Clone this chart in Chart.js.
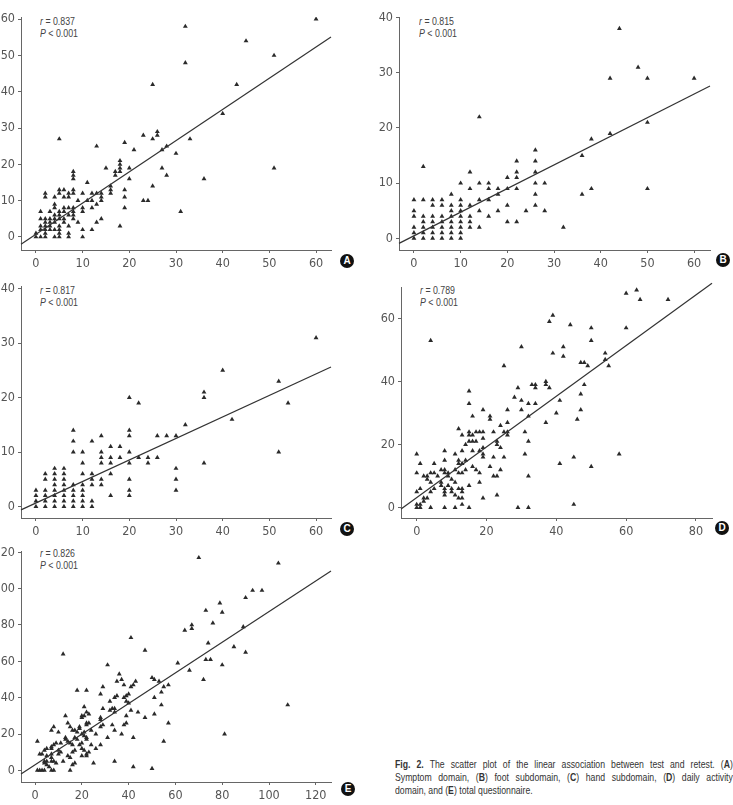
<!DOCTYPE html>
<html>
<head>
<meta charset="utf-8">
<script src="https://cdn.jsdelivr.net/npm/chart.js@4.4.1/dist/chart.umd.min.js"></script>
<style>
  body { margin: 0; width: 733px; height: 805px; position: relative; overflow: hidden; background: #fff;
         font-family: "Liberation Sans", Arial, sans-serif; }
  .panel { position: absolute; }
  .stat { position: absolute; font-size: 10px; line-height: 12px; color: #444; white-space: nowrap;
          transform: scaleX(0.88); transform-origin: 0 0; }
  .badge { position: absolute; width: 14px; height: 14px; border-radius: 50%; background: #111; color: #fff;
           font-weight: bold; font-size: 10px; line-height: 14px; text-align: center; }
  .cap { position: absolute; left: 395px; width: 412px; font-size: 10.6px; line-height: 13px; color: #333;
         text-align: justify; text-align-last: justify; white-space: nowrap;
         transform: scaleX(0.82); transform-origin: 0 0; }
  .cap.last { text-align-last: left; }
</style>
</head>
<body>

<div class="stat" style="left:40px;top:16px"><i>r</i> = 0.837<br><i>P</i> &lt; 0.001</div>
<div class="stat" style="left:419px;top:16px"><i>r</i> = 0.815<br><i>P</i> &lt; 0.001</div>
<div class="stat" style="left:40px;top:285px"><i>r</i> = 0.817<br><i>P</i> &lt; 0.001</div>
<div class="stat" style="left:420px;top:285px"><i>r</i> = 0.789<br><i>P</i> &lt; 0.001</div>
<div class="stat" style="left:40px;top:548px"><i>r</i> = 0.826<br><i>P</i> &lt; 0.001</div>

<div class="badge" style="left:340px;top:254px">A</div>
<div class="badge" style="left:716px;top:253px">B</div>
<div class="badge" style="left:340px;top:522px">C</div>
<div class="badge" style="left:715px;top:521px">D</div>
<div class="badge" style="left:341px;top:782px">E</div>

<div class="cap" style="top:758px"><b>Fig. 2.</b> The scatter plot of the linear association between test and retest. (<b>A</b>)</div>
<div class="cap" style="top:771px">Symptom domain, (<b>B</b>) foot subdomain, (<b>C</b>) hand subdomain, (<b>D</b>) daily activity</div>
<div class="cap last" style="top:784px">domain, and (<b>E</b>) total questionnaire.</div>

<script>
// test (x) / retest (y) pairs
const symptomA = [[60,60],[32,58],[45,54],[51,50],[32,48],[25,42],[43,42],[40,34],[5,27],[13,25],[19,26],[23,28],[25,27],[26,29],[26,28],[28,25],[33,27],[27,24],[21,24],[30,23],[18,21],[18,20],[17,18],[17,17],[18,19],[18,18],[15,19],[20,19],[27,19],[28,17],[20,16],[36,16],[51,19],[25,14],[8,18],[8,17],[8,16],[11,15],[16,14],[16,13],[16,12],[14,12],[14,11],[14,10],[19,13],[19,11],[19,8],[23,10],[24,10],[31,7],[18,3],[12,2],[14,5],[13,4],[13,12],[13,9],[12,12],[12,10],[12,8],[11,10],[10,12],[10,8],[10,7],[10,2],[10,0],[9,10],[9,4],[8,13],[8,12],[8,8],[8,7],[8,6],[8,5],[7,12],[7,11],[7,8],[7,6],[7,3],[7,1],[7,0],[6,13],[6,11],[6,8],[6,7],[6,5],[6,4],[5,13],[5,12],[5,7],[5,6],[5,5],[5,3],[5,2],[5,1],[5,0],[4,11],[4,9],[4,8],[4,6],[4,5],[4,4],[4,2],[4,0],[3,7],[3,5],[3,4],[3,3],[3,2],[2,12],[2,11],[2,5],[2,4],[2,3],[2,2],[2,1],[2,0],[1,7],[1,5],[1,3],[1,2],[1,0],[0,1],[0,0]];

const footB = [[44,38],[48,31],[42,29],[50,29],[60,29],[14,22],[50,21],[42,19],[38,18],[36,15],[36,8],[38,9],[50,9],[32,2],[2,13],[26,16],[26,14],[26,12],[26,10],[26,8],[26,6],[28,10],[28,5],[22,14],[22,12],[22,11],[22,9],[22,3],[24,5],[20,11],[20,9],[20,6],[20,3],[18,9],[18,8],[18,5],[16,10],[16,9],[16,7],[16,4],[14,10],[14,7],[14,5],[14,2],[12,12],[12,9],[12,6],[12,4],[12,3],[12,2],[10,10],[10,7],[10,6],[10,5],[10,4],[10,3],[10,2],[10,1],[10,0],[8,8],[8,6],[8,5],[8,4],[8,3],[8,2],[8,1],[8,0],[6,7],[6,6],[6,4],[6,3],[6,2],[6,1],[6,0],[4,7],[4,6],[4,4],[4,3],[4,2],[4,1],[4,0],[2,7],[2,4],[2,3],[2,2],[2,1],[2,0],[0,7],[0,5],[0,4],[0,2],[0,1],[0,0]];

const handC = [[60,31],[40,25],[52,23],[54,19],[42,16],[52,10],[36,21],[36,20],[36,8],[32,15],[30,13],[30,7],[30,5],[30,3],[26,13],[26,9],[28,13],[24,9],[24,8],[22,19],[22,9],[20,20],[20,14],[20,13],[20,10],[20,8],[20,5],[20,3],[20,2],[18,11],[18,9],[16,11],[16,9],[16,8],[16,6],[16,2],[14,13],[14,10],[14,9],[14,8],[14,5],[14,4],[12,12],[12,6],[12,5],[12,4],[12,1],[12,0],[10,10],[10,8],[10,6],[10,4],[10,3],[10,2],[10,1],[10,0],[8,14],[8,12],[8,10],[8,4],[8,3],[8,2],[8,1],[8,0],[6,7],[6,6],[6,5],[6,4],[6,3],[6,2],[6,1],[6,0],[4,7],[4,6],[4,5],[4,4],[4,3],[4,2],[4,1],[4,0],[2,6],[2,5],[2,3],[2,2],[2,1],[2,0],[0,3],[0,2],[0,1],[0,0]];

const dailyD = [[63,69],[60,68],[64,66],[72,66],[60,57],[39,61],[38,59],[44,58],[50,57],[50,53],[4,53],[30,51],[42,51],[39,49],[42,48],[54,49],[54,47],[47,46],[48,46],[49,45],[55,45],[25,45],[48,39],[37,40],[37,39],[33,39],[34,39],[34,38],[38,38],[29,38],[15,37],[47,36],[28,35],[30,34],[41,34],[15,33],[32,33],[34,33],[19,31],[26,31],[30,31],[47,31],[40,30],[32,29],[16,29],[21,29],[21,28],[46,28],[37,27],[26,27],[24,26],[12,25],[15,24],[15,23],[17,24],[18,24],[19,24],[22,24],[25,24],[26,24],[26,23],[31,24],[13,23],[16,23],[23,21],[23,20],[32,21],[15,21],[16,21],[17,21],[14,20],[19,22],[24,19],[19,19],[18,18],[13,18],[8,18],[16,18],[11,17],[0,17],[31,17],[58,17],[19,17],[19,16],[22,16],[25,16],[45,16],[12,15],[12,14],[14,15],[8,15],[13,14],[1,14],[5,14],[41,14],[21,13],[16,13],[17,12],[50,13],[14,12],[24,12],[7,12],[8,12],[4,11],[5,11],[0,11],[8,11],[9,11],[9,10],[12,11],[13,11],[11,12],[18,11],[2,10],[3,10],[3,9],[22,10],[23,10],[32,10],[10,9],[4,8],[7,8],[7,7],[11,8],[18,8],[15,7],[1,6],[5,6],[8,6],[8,5],[8,4],[10,6],[10,5],[12,6],[13,6],[13,5],[0,5],[4,5],[11,4],[23,4],[2,3],[2,2],[3,3],[12,3],[13,3],[19,3],[13,1],[45,1],[0,1],[1,1],[0,0],[1,0],[4,0],[8,0],[11,0],[15,0],[29,0],[32,0],[6,10],[9,7]];

const totalE = [[70,117],[104,114],[93,99],[97,99],[90,95],[79,92],[73,88],[80,87],[76,81],[67,80],[67,78],[64,77],[89,79],[74,70],[85,68],[47,66],[90,65],[12,64],[41,73],[73,61],[75,61],[61,59],[31,58],[80,58],[66,55],[36,53],[72,50],[50,51],[51,50],[53,49],[43,49],[35,49],[37,50],[55,46],[57,47],[41,46],[42,47],[38,47],[29,46],[54,43],[18,44],[22,44],[28,42],[34,40],[35,41],[38,40],[39,41],[40,42],[51,40],[39,38],[40,37],[32,38],[54,36],[108,36],[33,34],[32,33],[34,34],[21,35],[29,34],[41,33],[44,32],[34,32],[22,32],[23,31],[51,31],[13,30],[20,30],[21,30],[20,29],[39,30],[47,29],[28,29],[28,28],[14,26],[22,26],[23,26],[22,25],[39,26],[38,25],[57,26],[28,24],[29,25],[33,25],[19,24],[19,23],[15,24],[8,24],[7,22],[10,21],[16,22],[17,22],[18,21],[21,21],[20,20],[21,19],[24,22],[34,22],[26,20],[37,20],[1,16],[55,16],[81,20],[13,18],[13,17],[14,16],[17,18],[18,17],[22,17],[22,18],[31,18],[42,18],[9,15],[8,14],[11,15],[15,15],[16,14],[20,15],[19,14],[24,14],[7,13],[7,12],[5,12],[4,11],[10,11],[11,10],[10,9],[17,11],[16,10],[20,12],[21,11],[23,10],[22,9],[26,12],[28,14],[2,9],[3,9],[5,8],[7,7],[7,9],[14,8],[15,7],[20,8],[22,8],[4,5],[5,5],[4,4],[8,5],[7,5],[9,4],[12,5],[17,4],[16,3],[25,4],[34,5],[5,3],[6,2],[1,0],[2,0],[3,0],[4,0],[7,0],[8,0],[15,0],[42,2],[50,1]];

// regression lines: [intercept, slope]
const fitA = [0.75, 0.86];
const fitB = [0.47, 0.428];
const fitC = [0.65, 0.395];
const fitD = [3.2, 0.804];
const fitE = [3.06, 0.843];

// tick labels
const ticks60 = [0, 10, 20, 30, 40, 50, 60];
const ticks40 = [0, 10, 20, 30, 40];
const ticks80 = [0, 20, 40, 60, 80];
const ticks60by20 = [0, 20, 40, 60];
const ticks120 = [0, 20, 40, 60, 80, 100, 120];

const INK = "#2a2a2a";
const AXIS = "#666";
const TEXT = "#555";
const FONT = "'DejaVu Sans Condensed', 'Liberation Sans', sans-serif";

// layout: axis box in page pixels + value ranges
const panels = [
  { pts: symptomA, fit: fitA, box: [21, 17, 331, 250], x: [-3.2, 63.2], y: [-3.6, 60.6], xt: ticks60, yt: ticks60 },
  { pts: footB,    fit: fitB, box: [399, 17, 710, 250], x: [-3.2, 63.4], y: [-2.1, 40.1], xt: ticks60, yt: ticks40 },
  { pts: handC,    fit: fitC, box: [21, 286, 331, 518], x: [-3.2, 63.2], y: [-2.1, 40.5], xt: ticks60, yt: ticks40 },
  { pts: dailyD,   fit: fitD, box: [401, 287, 712, 518], x: [-4.5, 84.6], y: [-3.3, 70], xt: ticks80, yt: ticks60by20 },
  { pts: totalE,   fit: fitE, box: [21, 551, 331, 782], x: [-6, 126.5], y: [-6.4, 120.7], xt: ticks120, yt: ticks120 },
];

function axisOpts(range, tickList, isX) {
  return {
    type: "linear",
    min: range[0],
    max: range[1],
    afterFit: s => { if (isX) s.height = 25; else s.width = 21; },
    afterBuildTicks: s => { s.ticks = tickList.map(v => ({ value: v })); },
    grid: { drawOnChartArea: false, drawTicks: true, tickLength: 3, color: AXIS },
    border: { display: true, color: AXIS, width: 1 },
    ticks: { color: TEXT, font: { family: FONT, size: 12.5 }, padding: 3, autoSkip: false, maxRotation: 0 }
  };
}

panels.forEach(p => {
  const [L, T, R, B] = p.box;
  const left = L - 21, top = T - 17;
  const w = R - left + 10, h = B - top + 25;
  const wrap = document.createElement("div");
  wrap.className = "panel";
  wrap.style.left = left + "px";
  wrap.style.top = top + "px";
  const cv = document.createElement("canvas");
  cv.width = w; cv.height = h;
  cv.style.width = w + "px"; cv.style.height = h + "px";
  wrap.appendChild(cv);
  document.body.appendChild(wrap);

  const [a, b] = p.fit;
  new Chart(cv.getContext("2d"), {
    type: "scatter",
    data: {
      datasets: [
        {
          type: "line",
          data: [{ x: p.x[0], y: a + b * p.x[0] }, { x: p.x[1], y: a + b * p.x[1] }],
          borderColor: "#333", borderWidth: 1.2, pointRadius: 0, fill: false, clip: false, order: 0
        },
        {
          data: p.pts.map(([x, y]) => ({ x, y })),
          pointStyle: "triangle", pointRadius: 2.8, borderWidth: 0,
          backgroundColor: INK, order: 1
        }
      ]
    },
    options: {
      responsive: false, animation: false, devicePixelRatio: 1,
      layout: { padding: { top: 17, right: 10, left: 0, bottom: 0 } },
      plugins: { legend: { display: false }, tooltip: { enabled: false } },
      scales: { x: axisOpts(p.x, p.xt, true), y: axisOpts(p.y, p.yt, false) }
    }
  });
});
</script>
</body>
</html>
